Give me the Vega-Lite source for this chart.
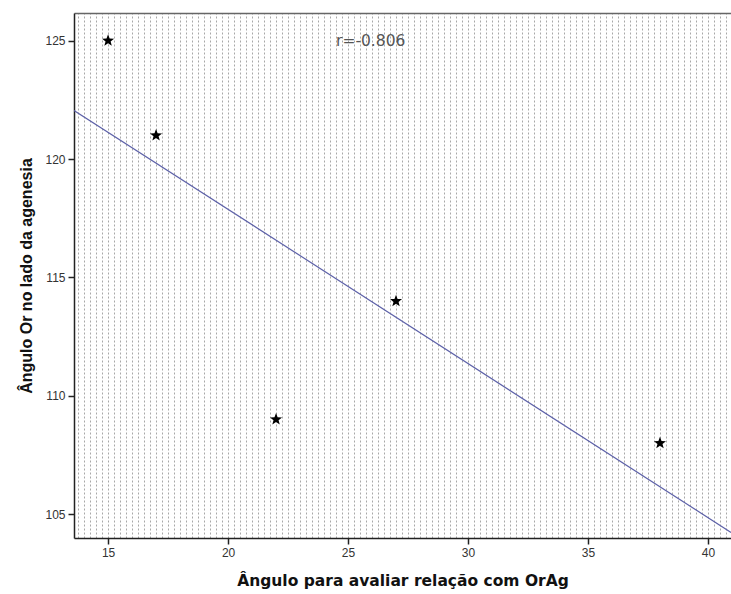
{
  "$schema": "https://vega.github.io/schema/vega-lite/v6.json",
  "width": 657,
  "height": 525,
  "autosize": {"type": "none"},
  "padding": {"left": 74, "top": 13, "right": 0, "bottom": 56},
  "background": "white",
  "config": {
    "font": "Liberation Sans",
    "view": {"stroke": null, "fill": "white"}
  },
  "datasets": {
    "pts": [
      {"x": 15, "y": 125},
      {"x": 17, "y": 121},
      {"x": 22, "y": 109},
      {"x": 27, "y": 114},
      {"x": 38, "y": 108}
    ],
    "note": [
      {"x": 24.5, "y": 125, "label": "r=-0.806"}
    ]
  },
  "resolve": {"axis": {"x": "independent", "y": "independent"}},
  "layer": [
    {
      "data": {"name": "pts"},
      "transform": [{"regression": "y", "on": "x", "extent": [13.58, 40.96]}],
      "mark": {"type": "line", "color": "#5d61a8", "strokeWidth": 1.2, "clip": true},
      "encoding": {
        "x": {
          "field": "x", "type": "quantitative",
          "scale": {"domain": [13.58, 40.96], "nice": false, "zero": false},
          "axis": {
            "orient": "top", "title": null, "labels": false, "ticks": false,
            "domain": true, "domainColor": "#666666", "domainWidth": 1.5,
            "grid": true, "gridColor": "#a8a8a8", "gridDash": [2, 2], "gridWidth": 1,
            "values": [13.75,14,14.25,14.5,14.75,15,15.25,15.5,15.75,16,16.25,16.5,16.75,17,17.25,17.5,17.75,18,18.25,18.5,18.75,19,19.25,19.5,19.75,20,20.25,20.5,20.75,21,21.25,21.5,21.75,22,22.25,22.5,22.75,23,23.25,23.5,23.75,24,24.25,24.5,24.75,25,25.25,25.5,25.75,26,26.25,26.5,26.75,27,27.25,27.5,27.75,28,28.25,28.5,28.75,29,29.25,29.5,29.75,30,30.25,30.5,30.75,31,31.25,31.5,31.75,32,32.25,32.5,32.75,33,33.25,33.5,33.75,34,34.25,34.5,34.75,35,35.25,35.5,35.75,36,36.25,36.5,36.75,37,37.25,37.5,37.75,38,38.25,38.5,38.75,39,39.25,39.5,39.75,40,40.25,40.5,40.75]
          }
        },
        "y": {
          "field": "y", "type": "quantitative",
          "scale": {"domain": [103.99, 126.17], "nice": false, "zero": false},
          "axis": null
        }
      }
    },
    {
      "data": {"name": "pts"},
      "mark": {
        "type": "point",
        "shape": "M0,-1L0.245,-0.34L0.951,-0.309L0.4,0.13L0.588,0.809L0,0.42L-0.588,0.809L-0.4,0.13L-0.951,-0.309L-0.245,-0.34Z",
        "filled": true, "color": "black", "opacity": 1, "size": 160
      },
      "encoding": {
        "x": {
          "field": "x", "type": "quantitative",
          "scale": {"domain": [13.58, 40.96], "nice": false, "zero": false},
          "axis": {
            "title": "Ângulo para avaliar relação com OrAg",
            "values": [15, 20, 25, 30, 35, 40],
            "grid": false, "domainColor": "#222222", "domainWidth": 1.5,
            "tickColor": "#222222", "tickSize": 6, "tickWidth": 1.5,
            "labelFontSize": 12, "labelColor": "#333333", "labelPadding": 3,
            "titleFont": "DejaVu Sans", "titleFontSize": 15.5, "titleFontWeight": "bold", "titleColor": "#111111",
            "titlePadding": 15
          }
        },
        "y": {
          "field": "y", "type": "quantitative",
          "scale": {"domain": [103.99, 126.17], "nice": false, "zero": false},
          "axis": {
            "title": "Ângulo Or no lado da agenesia",
            "values": [105, 110, 115, 120, 125],
            "grid": false, "domainColor": "#222222", "domainWidth": 1.5,
            "tickColor": "#222222", "tickSize": 6, "tickWidth": 1.5,
            "labelFontSize": 12, "labelColor": "#333333", "labelPadding": 3,
            "titleFontSize": 16, "titleFontWeight": "bold", "titleColor": "#111111",
            "titlePadding": 10
          }
        }
      }
    },
    {
      "data": {"name": "note"},
      "mark": {"type": "text", "align": "left", "baseline": "middle", "font": "DejaVu Sans", "fontSize": 15.5, "color": "#555555"},
      "encoding": {
        "x": {"field": "x", "type": "quantitative", "scale": {"domain": [13.58, 40.96], "nice": false, "zero": false}, "axis": null},
        "y": {"field": "y", "type": "quantitative", "scale": {"domain": [103.99, 126.17], "nice": false, "zero": false}, "axis": null},
        "text": {"field": "label"}
      }
    }
  ]
}
